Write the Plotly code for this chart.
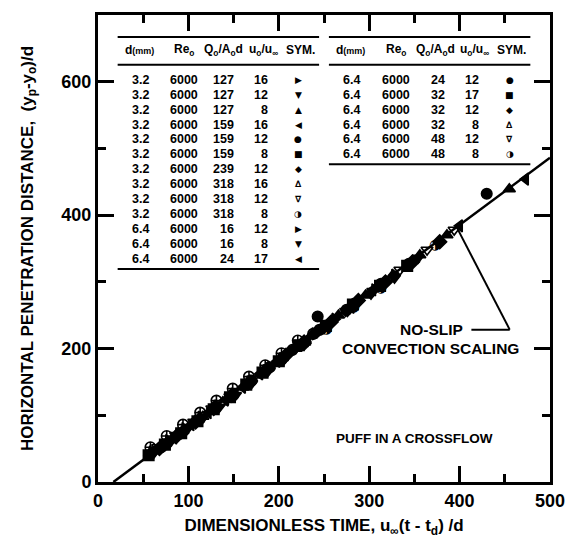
import plotly.graph_objects as go

# ---------------- table data ----------------
left_d = ["3.2"] * 10 + ["6.4"] * 3
left_re = ["6000"] * 13
left_q = ["127", "127", "127", "159", "159", "159", "239", "318", "318", "318", "16", "16", "24"]
left_u = ["16", "12", "8", "16", "12", "8", "12", "16", "12", "8", "12", "8", "17"]
left_sym = ["▶", "▼", "▲", "◀", "●", "■", "◆", "∆", "∇", "◑", "▶", "▼", "◀"]

right_d = ["6.4"] * 6
right_re = ["6000"] * 6
right_q = ["24", "32", "32", "32", "48", "48"]
right_u = ["12", "17", "12", "8", "12", "8"]
right_sym = ["●", "■", "◆", "∆", "∇", "◑"]

headers = ["d<span style='font-size:9px'>(mm)</span>", "Re<sub>o</sub>",
           "Q<sub>o</sub>/A<sub>o</sub>d", "u<sub>o</sub>/u<sub>∞</sub>", "SYM."]

s_x = {
    "L1": [60, 78, 96, 114, 132, 150, 168, 186, 204, 222],
    "L2": [62, 80, 98, 116, 134, 152, 170, 188, 206],
    "L3": [57, 75, 93, 111, 129, 147, 165, 183, 201, 219],
    "L4": [65, 84, 103, 122, 141, 160, 179, 198],
    "L5": [70, 90, 110, 130, 150, 170, 190, 243],
    "L6": [56, 74, 92, 110, 128, 146, 164, 182, 200],
    "L7": [68, 88, 108, 128, 148, 168, 188, 208, 228],
    "L8": [72, 94, 116, 138, 160, 182, 204, 226],
    "L9": [66, 86, 106, 126, 146, 166, 186, 206, 226],
    "L10": [58, 76, 94, 113, 131, 149, 167, 185, 203, 221, 238],
    "L11": [240, 262, 284, 306, 328],
    "L12": [250, 276, 302, 328, 354],
    "L13": [232, 256, 280, 304, 400, 473],
    "R1": [215, 245, 275, 313, 344, 430],
    "R2": [222, 252, 282, 312, 342],
    "R3": [228, 258, 288, 318, 348, 378],
    "R4": [236, 266, 296, 326, 356, 386, 455],
    "R5": [244, 274, 304, 334, 364, 394],
    "R6": [253, 283, 313, 343, 373],
}
s_y = {
    "L1": [45, 62, 80, 97, 114, 131, 150, 167, 185, 203],
    "L2": [44, 60, 78, 96, 112, 130, 148, 166, 184],
    "L3": [43, 58, 76, 94, 111, 129, 147, 165, 182, 200],
    "L4": [50, 66, 86, 104, 123, 142, 162, 181],
    "L5": [52, 72, 92, 112, 131, 152, 172, 248],
    "L6": [40, 56, 73, 91, 109, 127, 146, 164, 181],
    "L7": [50, 70, 90, 110, 130, 150, 170, 190, 208],
    "L8": [56, 77, 98, 120, 142, 164, 186, 207],
    "L9": [52, 70, 90, 110, 128, 148, 168, 188, 206],
    "L10": [52, 69, 86, 104, 122, 140, 158, 175, 193, 212, 222],
    "L11": [222, 244, 266, 288, 310],
    "L12": [230, 256, 282, 306, 336],
    "L13": [214, 240, 262, 288, 384, 454],
    "R1": [198, 228, 258, 297, 327, 432],
    "R2": [205, 234, 266, 294, 324],
    "R3": [210, 240, 272, 300, 330, 360],
    "R4": [220, 250, 280, 310, 340, 370, 439],
    "R5": [226, 256, 286, 318, 348, 378],
    "R6": [228, 262, 290, 324, 354],
}
s_sym = {
    "L1": "triangle-right", "L2": "triangle-down", "L3": "triangle-up", "L4": "triangle-left",
    "L5": "circle", "L6": "square", "L7": "diamond", "L8": "triangle-up-open",
    "L9": "triangle-down-open", "L10": "circle-cross-open", "L11": "triangle-right",
    "L12": "triangle-down", "L13": "triangle-left", "R1": "circle", "R2": "square",
    "R3": "diamond", "R4": "triangle-up", "R5": "triangle-down-open", "R6": "half",
}

fit_x = [17, 500]
fit_y = [0, 486]

FONT = "Liberation Sans, Arial, sans-serif"

fig = go.Figure()
fig.add_trace(go.Scatter(x=fit_x, y=fit_y, mode="lines",
                         line=dict(color="black", width=2.5), hoverinfo="skip"))

for k in s_x:
    if s_sym[k] == "half":
        fig.add_trace(go.Scatter(x=s_x[k], y=s_y[k], mode="text", text=["◑"] * len(s_x[k]),
                                 textfont=dict(size=14, color="black", family="DejaVu Sans")))
    else:
        fig.add_trace(go.Scatter(
            x=s_x[k], y=s_y[k], mode="markers",
            marker=dict(symbol=s_sym[k], size=10.5, color="black",
                        line=dict(color="black", width=1.6))))

# ---------------- layout helpers (pixel -> paper) ----------------
L, R, T, B = 98, 558, 13, 482


def px(X):
    return (X - L) / (R - L)


def py(Y):
    return (B - Y) / (B - T)


annots = []
shapes = []


def txt(X, Y, s, anchor="center", size=11.5, family=FONT):
    annots.append(dict(x=px(X), y=py(Y), xref="paper", yref="paper", text="<b>" + s + "</b>",
                       showarrow=False, xanchor=anchor, yanchor="middle",
                       font=dict(size=size, color="black", family=family)))


def hline(X0, X1, Y, w=2):
    shapes.append(dict(type="line", xref="paper", yref="paper", x0=px(X0), x1=px(X1),
                       y0=py(Y), y1=py(Y), line=dict(color="black", width=w)))


def table(x0, cols_h, cols_v, dvals, revals, qvals, uvals, syms):
    width = 205
    hline(x0, x0 + width, 35)
    hline(x0, x0 + width, 63)
    n = len(dvals)
    hline(x0, x0 + width, 78 + 15 * (n - 1) + 10)
    for h, cx in zip(headers, cols_h):
        txt(x0 + cx, 48, h, size=12)
    for i in range(n):
        Y = 78 + 15 * i
        txt(x0 + cols_v[0], Y, dvals[i], "center", 12.5)
        txt(x0 + cols_v[1], Y, revals[i], "center", 12.5)
        txt(x0 + cols_v[2], Y, qvals[i], "right", 12.5)
        txt(x0 + cols_v[3], Y, uvals[i], "right", 12.5)
        txt(x0 + cols_v[4], Y, syms[i], "center", 9, "DejaVu Sans")


cols_h = [22, 68, 108, 148, 186]
cols_v = [23, 68, 120, 155, 184]
table(118, cols_h, cols_v, left_d, left_re, left_q, left_u, left_sym)
table(333, cols_h, cols_v, right_d, right_re, right_q, right_u, right_sym)

# annotation texts
txt(437, 329, "NO-SLIP", size=15.5)
txt(436, 348, "CONVECTION SCALING", size=15.5)
txt(420, 438, "PUFF IN A CROSSFLOW", size=13.5)
# pointer
shapes.append(dict(type="line", xref="paper", yref="paper", x0=px(478), x1=px(517),
                   y0=py(329), y1=py(329), line=dict(color="black", width=2)))
shapes.append(dict(type="line", xref="paper", yref="paper", x0=px(517), x1=px(463),
                   y0=py(329), y1=py(226), line=dict(color="black", width=2)))

axis_common = dict(showline=True, linewidth=3, linecolor="black", mirror="allticks",
                   ticks="inside", ticklen=16, tickwidth=3, tickcolor="black",
                   showgrid=False, zeroline=False,
                   tickfont=dict(size=18, color="black", family=FONT, weight="bold"))

fig.update_layout(
    width=577, height=545,
    margin=dict(l=L, r=577 - R, t=T, b=545 - B, pad=0),
    paper_bgcolor="white", plot_bgcolor="white",
    showlegend=False,
    annotations=annots, shapes=shapes,
    xaxis=dict(range=[0, 500], dtick=100, tick0=0,
               minor=dict(ticks="inside", ticklen=8, tickwidth=3, dtick=50, tickcolor="black"),
               title=dict(text="<b>DIMENSIONLESS TIME, u<sub>∞</sub>(t - t<sub>d</sub>) /d</b>",
                          font=dict(size=17, color="black", family=FONT), standoff=10),
               **axis_common),
    yaxis=dict(range=[0, 700], tickvals=[0, 200, 400, 600],
               minor=dict(ticks="inside", ticklen=8, tickwidth=3, dtick=100, tickcolor="black"),
               title=dict(text="<b>HORIZONTAL PENETRATION DISTANCE,  (y<sub>p</sub>-y<sub>o</sub>)/d</b>",
                          font=dict(size=17, color="black", family=FONT), standoff=24),
               **axis_common),
)

fig.write_html("out.html")
